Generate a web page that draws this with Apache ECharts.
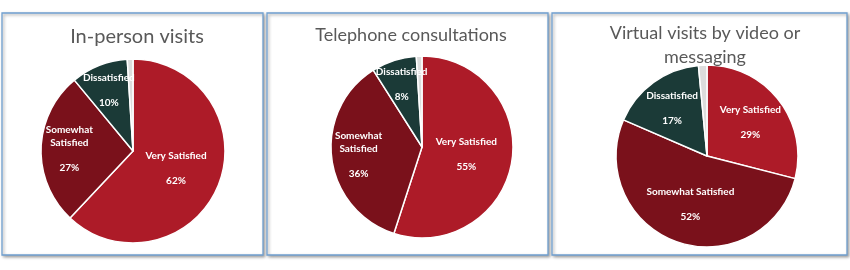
<!DOCTYPE html>
<html>
<head>
<meta charset="utf-8">
<script src="https://cdn.jsdelivr.net/npm/echarts@6/dist/echarts.min.js"></script>
<style>
html,body{margin:0;padding:0;background:#fff;}
#c{width:850px;height:270px;}
</style>
</head>
<body>
<div id="c"></div>
<script>
// ---- data ----
const categories = ['Very Satisfied', 'Somewhat Satisfied', 'Dissatisfied', 'Other'];
const chartTitles = ['In-person visits', 'Telephone consultations', 'Virtual visits by video or\nmessaging'];
const inPersonValues = [62, 27, 10, 1];
const telephoneValues = [55, 36, 8, 1];
const virtualValues = [29, 52.5, 17, 1.5];
const inPersonLabels = ['62%', '27%', '10%', ''];
const telephoneLabels = ['55%', '36%', '8%', ''];
const virtualLabels = ['29%', '52%', '17%', ''];

// ---- styles / layout ----
const colors = ['#ad1b28', '#7a111b', '#1b3a37', '#dcdcdc'];
const panels = [
  {x: 2, y: 13, w: 261, h: 242, cx: 133, cy: 151, r: 92, tx: 132, ty: 19, fs: 20, wrap: true, lr: [0.47, 0.66, 0.68, 0.5]},
  {x: 267, y: 13, w: 281, h: 242, cx: 422, cy: 147, r: 91, tx: 406, ty: 18, fs: 18, wrap: true, lr: [0.46, 0.67, 0.69, 0.5]},
  {x: 552, y: 13, w: 295, h: 242, cx: 707, cy: 156, r: 91, tx: 700, ty: 16, fs: 18, wrap: false, lr: [0.57, 0.53, 0.62, 0.5]}
];
const valueSets = [inPersonValues, telephoneValues, virtualValues];
const labelSets = [inPersonLabels, telephoneLabels, virtualLabels];

const chart = echarts.init(document.getElementById('c'), null, {renderer: 'canvas'});

const graphics = panels.map(p => ({
  type: 'rect', z: -10,
  shape: {x: p.x, y: p.y, width: p.w, height: p.h},
  style: {fill: '#fff', stroke: '#6f9fcf', lineWidth: 1.3,
    shadowBlur: 3, shadowColor: 'rgba(0,0,0,0.35)', shadowOffsetX: 1.5, shadowOffsetY: 1.5}
}));

const titles = panels.map((p, i) => ({
  text: chartTitles[i], left: p.tx, top: p.ty, textAlign: 'center',
  textStyle: {fontFamily: 'Lato', fontWeight: 'normal', fontSize: p.fs, color: '#595959', lineHeight: p.fs + 6}
}));

function labelOffsets(values, p) {
  const total = values.reduce((a, b) => a + b, 0);
  let acc = 0;
  return values.map((v, k) => {
    const mid = (acc + v / 2) / total * 2 * Math.PI;
    acc += v;
    const d = (p.lr[k] - 0.5) * p.r;
    return [Math.sin(mid) * d, -Math.cos(mid) * d];
  });
}

const series = panels.map((p, i) => {
  const offs = labelOffsets(valueSets[i], p);
  return {
    type: 'pie',
    center: [p.cx, p.cy],
    radius: [0, p.r],
    startAngle: 90,
    clockwise: true,
    animation: false,
    silent: true,
    itemStyle: {borderColor: '#fff', borderWidth: 1.5},
    label: {
      show: true, position: 'inside',
      color: '#fff', fontFamily: 'Lato', fontWeight: 'bold', fontSize: 10, lineHeight: 12.5,
      formatter: params => {
        if (!labelSets[i][params.dataIndex]) return '';
        let name = params.name;
        if (p.wrap && name === 'Somewhat Satisfied') name = 'Somewhat\nSatisfied';
        return name + '\n\n' + labelSets[i][params.dataIndex];
      }
    },
    labelLine: {show: false},
    data: categories.map((c, k) => ({
      name: c, value: valueSets[i][k],
      itemStyle: {color: colors[k]},
      label: {offset: offs[k]}
    }))
  };
});

chart.setOption({
  backgroundColor: '#fff',
  animation: false,
  title: titles,
  graphic: graphics,
  series: series
});
</script>
</body>
</html>
